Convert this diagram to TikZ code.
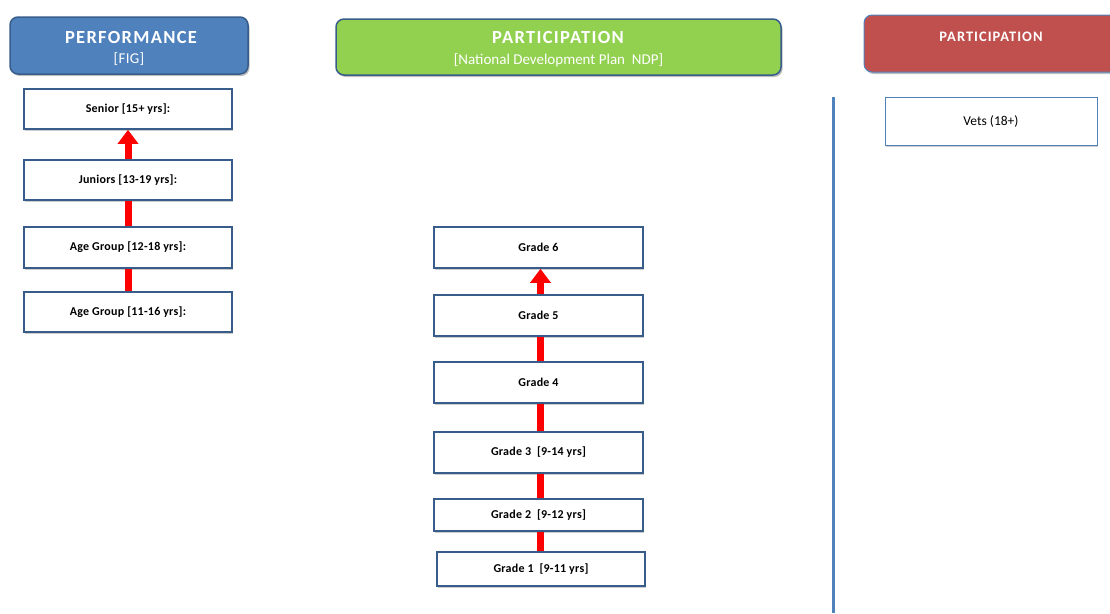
\documentclass[tikz,border=0pt]{standalone}
\usepackage{fontspec}
\setmainfont{Carlito}
\newfontfamily\boxfont[LetterSpace=2]{Carlito}
\newfontfamily\headfont[LetterSpace=7]{Carlito}
\newfontfamily\subfont[LetterSpace=2]{Carlito}
\usetikzlibrary{shadows,arrows.meta}
\definecolor{hblue}{HTML}{4F81BD}
\definecolor{hgreen}{HTML}{92D050}
\definecolor{hred}{HTML}{C0504D}
\definecolor{bdr}{HTML}{385D8A}
\tikzset{
  header/.style={draw=bdr, line width=1.5pt, rounded corners=8pt, text=white, align=center, inner sep=0pt,
    drop shadow={shadow xshift=1.5pt, shadow yshift=-2pt, fill=black, opacity=0.25}},
  level/.style={draw=bdr, line width=1.6pt, fill=white, inner sep=0pt, font=\boxfont\bfseries\fontsize{12}{14}\selectfont,
    drop shadow={shadow xshift=1pt, shadow yshift=-2pt, fill=black, opacity=0.2}},
  vets/.style={draw=hblue, line width=0.9pt, fill=white, inner sep=0pt, font=\fontsize{13.5}{16}\selectfont,
    drop shadow={shadow xshift=1pt, shadow yshift=-2pt, fill=black, opacity=0.2}},
  link/.style={draw=red, line width=7pt},
  uplink/.style={draw=red, line width=7pt, -{Triangle[width=20pt,length=14pt]}},
}
\begin{document}
\begin{tikzpicture}[x=1pt,y=-1pt]
\useasboundingbox (0,0) rectangle (1110,613);
\begin{scope}
\clip (0,0) rectangle (1110,613);
% headers
\node[header, fill=hblue, minimum width=238pt, minimum height=57pt] (hperf) at (129,45.5) {};
\node[text=white, font=\headfont\bfseries\fontsize{18.5}{20}\selectfont] (tperf) at (131,37) {PERFORMANCE};
\node[text=white, font=\subfont\fontsize{15}{18}\selectfont] (sperf) at (129,59) {[FIG]};

\node[header, fill=hgreen, minimum width=445pt, minimum height=56pt] (hpart) at (558.5,47) {};
\node[text=white, font=\headfont\bfseries\fontsize{18.5}{20}\selectfont] (tpart) at (558,37) {PARTICIPATION};
\node[text=white, font=\fontsize{15}{18}\selectfont] (spart) at (558.5,60) {[National Development Plan \ NDP]};

\node[header, draw=hblue, line width=1pt, fill=hred, minimum width=254pt, minimum height=57pt] (hvet) at (991,43.5) {};
\node[text=white, font=\headfont\bfseries\fontsize{14.5}{16}\selectfont] (tvet) at (991,37) {PARTICIPATION};

% divider
\coordinate (dtop) at (833,97);
\coordinate (dbot) at (833,613);
\draw[hblue, line width=3pt] (dtop) -- (dbot);
\end{scope}

% performance column
\node[level, minimum width=208pt, minimum height=40pt] (sen) at (128,109) {Senior [15+ yrs]:};
\node[level, minimum width=208pt, minimum height=40pt] (jun) at (128,180) {Juniors [13-19 yrs]:};
\node[level, minimum width=208pt, minimum height=41pt] (ag1) at (128,247.5) {Age Group [12-18 yrs]:};
\node[level, minimum width=208pt, minimum height=40pt] (ag2) at (128,312) {Age Group [11-16 yrs]:};
\draw[link] (ag2.north) -- (ag1.south);
\draw[link] (ag1.north) -- (jun.south);
\draw[uplink] (jun.north) -- (sen.south);

% participation column
\node[level, minimum width=209pt, minimum height=41pt] (g6) at (538.5,247.5) {Grade 6};
\node[level, minimum width=209pt, minimum height=41pt] (g5) at (538.5,315.5) {Grade 5};
\node[level, minimum width=209pt, minimum height=41pt] (g4) at (538.5,382.5) {Grade 4};
\node[level, minimum width=209pt, minimum height=41pt] (g3) at (538.5,452.5) {Grade 3 \ [9-14 yrs]};
\node[level, minimum width=209pt, minimum height=32pt] (g2) at (538.5,515) {Grade 2 \ [9-12 yrs]};
\node[level, minimum width=208pt, minimum height=34pt] (g1) at (541,569) {Grade 1 \ [9-11 yrs]};
\draw[link] ([xshift=-0.5pt]g1.north) -- ([xshift=2pt]g2.south);
\draw[link] ([xshift=2pt]g2.north) -- ([xshift=2pt]g3.south);
\draw[link] ([xshift=2pt]g3.north) -- ([xshift=2pt]g4.south);
\draw[link] ([xshift=2pt]g4.north) -- ([xshift=2pt]g5.south);
\draw[uplink] ([xshift=2pt]g5.north) -- ([xshift=2pt]g6.south);

% vets
\node[vets, minimum width=212pt, minimum height=48pt] (vet) at (991,121) {Vets (18+)};
\end{tikzpicture}
\end{document}
